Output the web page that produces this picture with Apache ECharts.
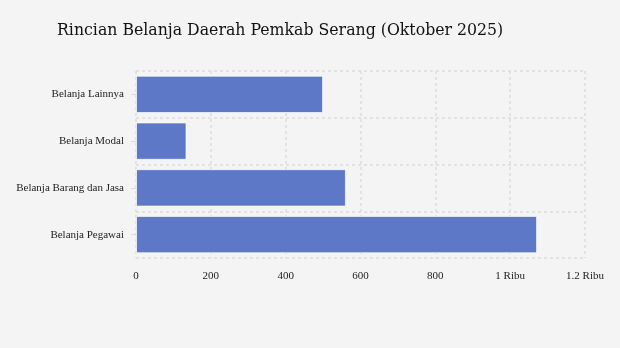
<!DOCTYPE html>
<html><head><meta charset="utf-8">
<script src="https://cdn.jsdelivr.net/npm/echarts@6/dist/echarts.min.js"></script>
<style>html,body{margin:0;padding:0;background:#f4f4f4;}#c{width:620px;height:348px;}</style>
</head><body><div id="c"></div>
<script>
const categories = ['Belanja Pegawai', 'Belanja Barang dan Jasa', 'Belanja Modal', 'Belanja Lainnya'];
const values = [1072, 561, 135, 500];
const titleText = 'Rincian Belanja Daerah Pemkab Serang (Oktober 2025)';

const chart = echarts.init(document.getElementById('c'));
chart.setOption({
  backgroundColor: '#f4f4f4',
  animation: false,
  title: {
    text: titleText, left: 52, top: 16,
    textStyle: { fontFamily: 'DejaVu Serif Condensed', fontWeight: 'normal', fontSize: 17.5, color: '#111' }
  },
  grid: { left: 136, right: 35, top: 71, bottom: 90 },
  xAxis: {
    type: 'value', min: 0, max: 1200, interval: 200,
    axisLine: { show: false },
    axisTick: { show: false },
    axisLabel: {
      margin: 13, color: '#222', fontFamily: 'Liberation Serif', fontSize: 11,
      formatter: v => v >= 1000 ? (v / 1000) + ' Ribu' : String(v)
    },
    splitLine: { show: true, lineStyle: { color: '#dcdcdc', width: 1.5, type: [3, 3] } }
  },
  yAxis: {
    type: 'category', data: categories,
    axisLine: { show: false },
    axisTick: { show: true, alignWithLabel: true, length: 5, lineStyle: { color: '#dcdcdc' } },
    axisLabel: { margin: 12, color: '#222', fontFamily: 'Liberation Serif', fontSize: 11 },
    splitLine: { show: true, lineStyle: { color: '#dcdcdc', width: 1.5, type: [3, 3] } }
  },
  series: [{
    type: 'bar', data: values, barWidth: '80%',
    itemStyle: { color: '#5e78c8', borderColor: 'rgba(255,255,255,0.7)', borderWidth: 1 }
  }]
});
</script></body></html>
